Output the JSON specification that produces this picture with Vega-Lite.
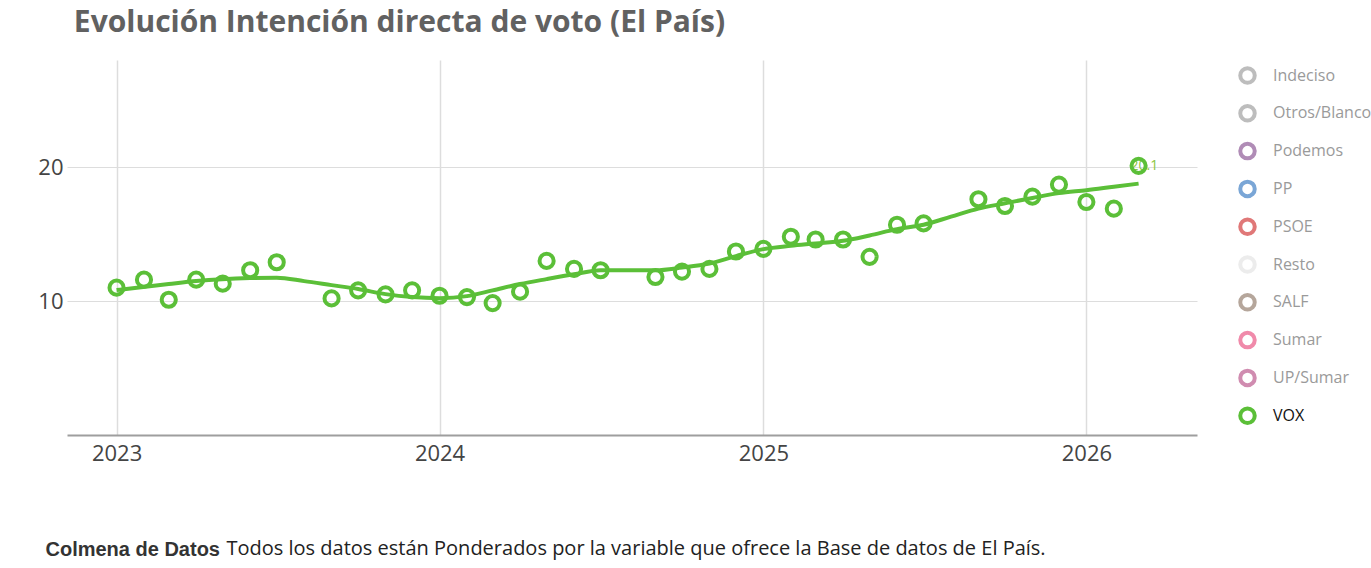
{
  "$schema": "https://vega.github.io/schema/vega-lite/v6.json",
  "width": 1130,
  "height": 375,
  "autosize": {"type": "none"},
  "padding": {"left": 67, "top": 60, "right": 174, "bottom": 133},
  "background": "white",
  "config": {"view": {"stroke": null}, "font": "Open Sans"},
  "title": {
    "text": "Evolución Intención directa de voto (El País)",
    "anchor": "start",
    "dx": 36,
    "offset": -2,
    "baseline": "alphabetic",
    "font": "Open Sans",
    "fontSize": 30,
    "fontWeight": "bold",
    "color": "#616161"
  },
  "datasets": {
    "obs": [
      {"date": "2023-01-01", "party": "VOX", "value": 11.0},
      {"date": "2023-02-01", "party": "VOX", "value": 11.6},
      {"date": "2023-03-01", "party": "VOX", "value": 10.1},
      {"date": "2023-04-01", "party": "VOX", "value": 11.6},
      {"date": "2023-05-01", "party": "VOX", "value": 11.3},
      {"date": "2023-06-01", "party": "VOX", "value": 12.3},
      {"date": "2023-07-01", "party": "VOX", "value": 12.9},
      {"date": "2023-09-01", "party": "VOX", "value": 10.2},
      {"date": "2023-10-01", "party": "VOX", "value": 10.8},
      {"date": "2023-11-01", "party": "VOX", "value": 10.5},
      {"date": "2023-12-01", "party": "VOX", "value": 10.8},
      {"date": "2024-01-01", "party": "VOX", "value": 10.4},
      {"date": "2024-02-01", "party": "VOX", "value": 10.3},
      {"date": "2024-03-01", "party": "VOX", "value": 9.85},
      {"date": "2024-04-01", "party": "VOX", "value": 10.7},
      {"date": "2024-05-01", "party": "VOX", "value": 13.0},
      {"date": "2024-06-01", "party": "VOX", "value": 12.4},
      {"date": "2024-07-01", "party": "VOX", "value": 12.3},
      {"date": "2024-09-01", "party": "VOX", "value": 11.8},
      {"date": "2024-10-01", "party": "VOX", "value": 12.2},
      {"date": "2024-11-01", "party": "VOX", "value": 12.4},
      {"date": "2024-12-01", "party": "VOX", "value": 13.7},
      {"date": "2025-01-01", "party": "VOX", "value": 13.9},
      {"date": "2025-02-01", "party": "VOX", "value": 14.8},
      {"date": "2025-03-01", "party": "VOX", "value": 14.6},
      {"date": "2025-04-01", "party": "VOX", "value": 14.6},
      {"date": "2025-05-01", "party": "VOX", "value": 13.3},
      {"date": "2025-06-01", "party": "VOX", "value": 15.7},
      {"date": "2025-07-01", "party": "VOX", "value": 15.8},
      {"date": "2025-09-01", "party": "VOX", "value": 17.6},
      {"date": "2025-10-01", "party": "VOX", "value": 17.1},
      {"date": "2025-11-01", "party": "VOX", "value": 17.8},
      {"date": "2025-12-01", "party": "VOX", "value": 18.7},
      {"date": "2026-01-01", "party": "VOX", "value": 17.4},
      {"date": "2026-02-01", "party": "VOX", "value": 16.9},
      {"date": "2026-03-01", "party": "VOX", "value": 20.1}
    ],
    "trend": [
      {"date": "2023-01-01", "trend": 10.82},
      {"date": "2023-03-01", "trend": 11.27},
      {"date": "2023-04-01", "trend": 11.49},
      {"date": "2023-06-01", "trend": 11.72},
      {"date": "2023-07-01", "trend": 11.75},
      {"date": "2023-08-01", "trend": 11.49},
      {"date": "2023-09-01", "trend": 11.19},
      {"date": "2023-10-01", "trend": 10.9},
      {"date": "2023-11-01", "trend": 10.52},
      {"date": "2023-12-01", "trend": 10.3},
      {"date": "2024-01-01", "trend": 10.22},
      {"date": "2024-02-01", "trend": 10.37},
      {"date": "2024-03-01", "trend": 10.8},
      {"date": "2024-04-01", "trend": 11.27},
      {"date": "2024-05-01", "trend": 11.64},
      {"date": "2024-06-01", "trend": 12.0},
      {"date": "2024-07-01", "trend": 12.3},
      {"date": "2024-09-01", "trend": 12.3},
      {"date": "2024-10-01", "trend": 12.5},
      {"date": "2024-11-01", "trend": 12.8},
      {"date": "2024-12-01", "trend": 13.36},
      {"date": "2025-01-01", "trend": 13.88},
      {"date": "2025-02-01", "trend": 14.13},
      {"date": "2025-03-01", "trend": 14.3},
      {"date": "2025-04-01", "trend": 14.5},
      {"date": "2025-05-01", "trend": 14.9},
      {"date": "2025-06-01", "trend": 15.37},
      {"date": "2025-07-01", "trend": 15.7},
      {"date": "2025-08-01", "trend": 16.3},
      {"date": "2025-09-01", "trend": 16.9},
      {"date": "2025-10-01", "trend": 17.3},
      {"date": "2025-11-01", "trend": 17.7},
      {"date": "2025-12-01", "trend": 18.06},
      {"date": "2026-01-01", "trend": 18.28},
      {"date": "2026-02-01", "trend": 18.54},
      {"date": "2026-03-01", "trend": 18.77}
    ],
    "last": [
      {"date": "2026-03-01", "value": 20.1, "label": "20.1"}
    ]
  },
  "encoding": {
    "x": {
      "field": "date",
      "type": "temporal",
      "scale": {"domain": ["2022-11-06", "2026-05-06"]},
      "axis": {
        "values": [{"year": 2023, "month": 1, "date": 1}, {"year": 2024, "month": 1, "date": 1}, {"year": 2025, "month": 1, "date": 1}, {"year": 2026, "month": 1, "date": 1}],
        "format": "%Y",
        "title": "Colmena de Datos",
        "titleAnchor": "start",
        "titleAlign": "left",
        "titleBaseline": "alphabetic",
        "titleX": -22,
        "titleY": 120,
        "titleFont": "Liberation Sans",
        "titleFontSize": 20,
        "titleFontWeight": "bold",
        "titleColor": "#333333",
        "grid": true,
        "gridColor": "#dddddd",
        "gridWidth": 1.5,
        "ticks": false,
        "domain": true,
        "domainColor": "#9e9e9e",
        "domainWidth": 2,
        "labelFont": "Open Sans",
        "labelFontSize": 22,
        "labelColor": "#444444",
        "labelPadding": 8
      }
    }
  },
  "layer": [
    {
      "data": {"name": "trend"},
      "mark": {"type": "line", "interpolate": "monotone", "color": "#5bbf38", "strokeWidth": 4},
      "encoding": {
        "y": {
          "field": "trend",
          "type": "quantitative",
          "scale": {"domain": [0, 28], "nice": false, "zero": false},
          "axis": {
            "values": [10, 20],
            "title": "Todos los datos están Ponderados por la variable que ofrece la Base de datos de El País.",
            "titleAngle": 0,
            "titleAnchor": "start",
            "titleAlign": "left",
            "titleBaseline": "alphabetic",
            "titleX": 159,
            "titleY": 494,
            "titleFont": "Open Sans",
            "titleFontSize": 20,
            "titleFontWeight": "normal",
            "titleColor": "#222222",
            "grid": true,
            "gridColor": "#dddddd",
            "gridWidth": 1,
            "domain": false,
            "ticks": false,
            "labelFont": "Open Sans",
            "labelFontSize": 22,
            "labelColor": "#444444",
            "labelPadding": 4
          }
        }
      }
    },
    {
      "data": {"name": "last"},
      "mark": {"type": "text", "align": "left", "baseline": "middle", "dx": -8, "dy": 0, "fontSize": 14, "font": "Open Sans", "color": "#8cc63f"},
      "encoding": {
        "y": {"field": "value", "type": "quantitative"},
        "text": {"field": "label"}
      }
    },
    {
      "data": {"name": "obs"},
      "mark": {"type": "point", "filled": false, "shape": "circle", "size": 200, "strokeWidth": 4, "opacity": 1},
      "encoding": {
        "y": {"field": "value", "type": "quantitative"},
        "color": {
          "field": "party",
          "type": "nominal",
          "scale": {
            "domain": ["Indeciso", "Otros/Blanco", "Podemos", "PP", "PSOE", "Resto", "SALF", "Sumar", "UP/Sumar", "VOX"],
            "range": ["#bdbdbd", "#bdbdbd", "#b08cb6", "#7aa6d6", "#e07878", "#ececec", "#b5a69b", "#f08aaa", "#d08cb0", "#5bbf38"]
          },
          "legend": {
            "title": null,
            "orient": "none",
            "legendX": 1171,
            "legendY": 6,
            "padding": 0,
            "symbolType": "circle",
            "symbolSize": 210,
            "symbolStrokeWidth": 4,
            "symbolFillColor": "white",
            "labelFont": "Open Sans",
            "labelFontSize": 16,
            "labelOffset": 16,
            "rowPadding": 6.8,
            "labelLimit": 200,
            "labelColor": {"expr": "datum.value === 'VOX' ? '#111111' : '#9a9a9a'"}
          }
        }
      }
    }
  ]
}
